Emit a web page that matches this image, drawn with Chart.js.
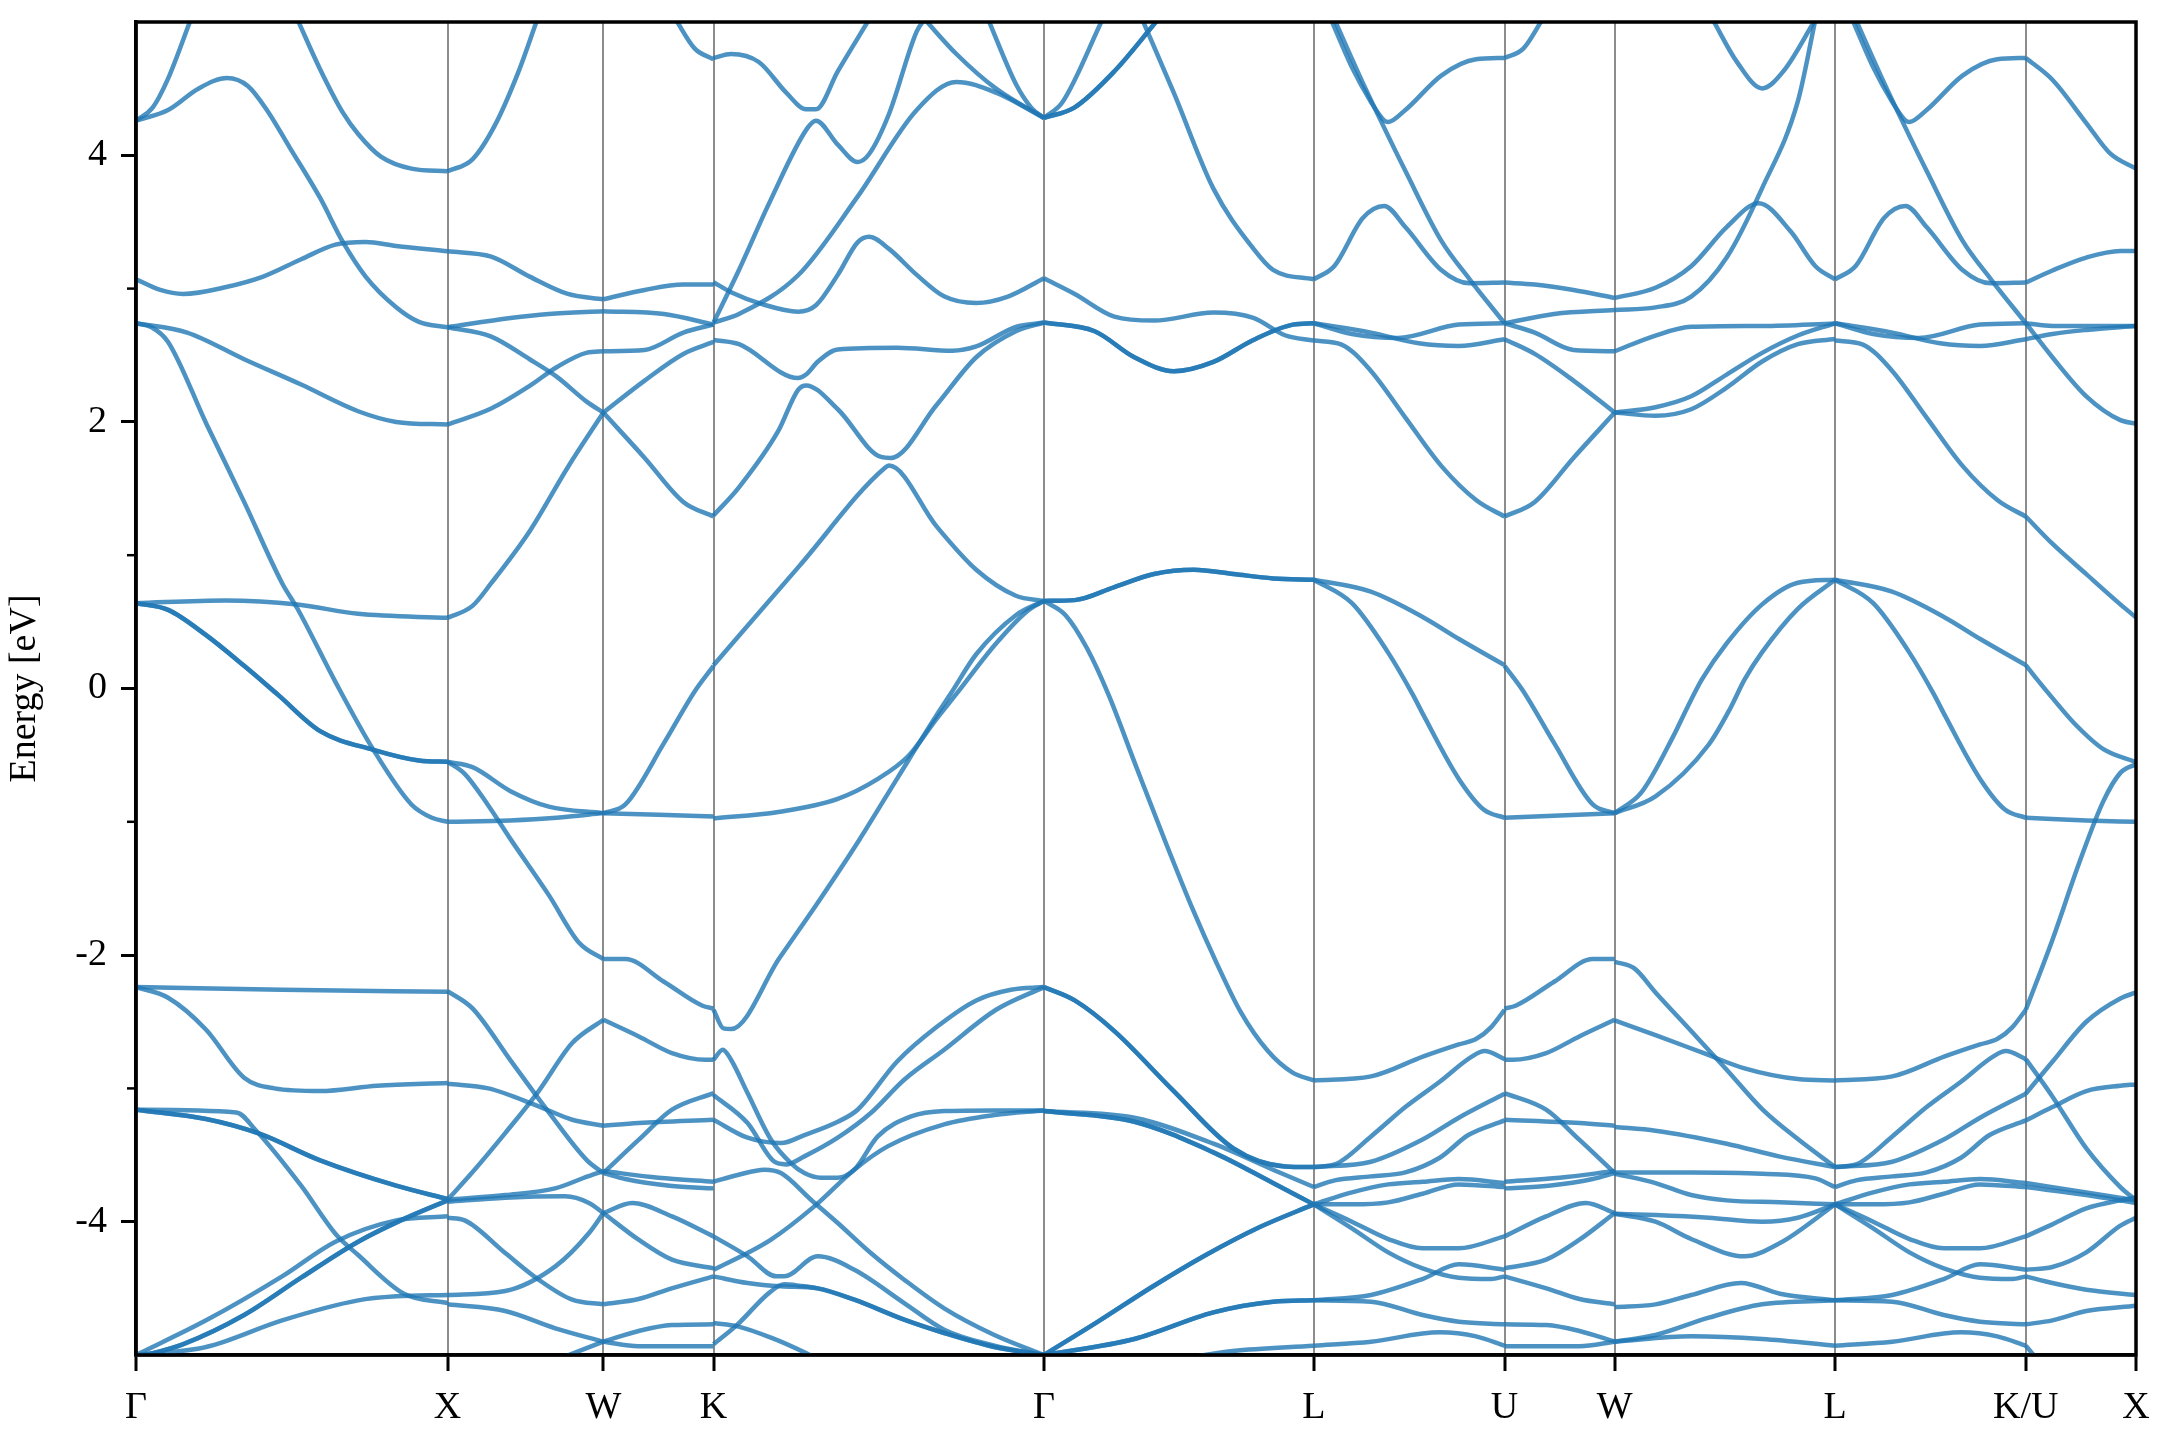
<!DOCTYPE html>
<html lang="en">
<head>
<meta charset="UTF-8">
<title>Band structure</title>
<script src="https://cdn.jsdelivr.net/npm/chart.js"></script>
<style>
  html, body { margin: 0; padding: 0; background: #fff; }
</style>
</head>
<body>
<canvas id="bands" width="2160" height="1440"></canvas>
<script>
// high-symmetry path (k distance, 2pi/a)
const kLabels = ['Γ', 'X', 'W', 'K', 'Γ', 'L', 'U', 'W', 'L', 'K/U', 'X'];
const kTicks = [0, 1, 1.5, 1.8536, 2.9142, 3.7802, 4.3926, 4.7462, 5.4533, 6.0656, 6.4192];
const yTicks = [-4, -2, 0, 2, 4];

// each curve: [fraction along segment, energy eV]
const bandsGX = [
  [[0,4.26],[0.054,4.36],[0.1,4.56],[0.176,5.02]],
  [[0,4.26],[0.103,4.34],[0.2,4.50],[0.292,4.58],[0.359,4.52],[0.42,4.34],[0.493,4.06],[0.591,3.68],[0.664,3.35],[0.737,3.09],[0.835,2.86],[0.908,2.75],[1,2.71]],
  [[0.518,5.02],[0.59,4.65],[0.664,4.32],[0.713,4.16],[0.786,3.99],[0.884,3.90],[1,3.88]],
  [[0,3.07],[0.078,2.99],[0.151,2.96],[0.286,3.01],[0.408,3.09],[0.53,3.22],[0.64,3.33],[0.737,3.35],[0.835,3.32],[1,3.28]],
  [[0,2.74],[0.164,2.67],[0.347,2.47],[0.53,2.28],[0.713,2.08],[0.835,2.0],[1,1.98]],
  [[0,2.74],[0.05,2.71],[0.103,2.6],[0.225,1.99],[0.347,1.40],[0.469,0.79],[0.518,0.60],[0.64,0.05],[0.762,-0.46],[0.884,-0.87],[0.95,-0.97],[1,-1.0]],
  [[0,0.64],[0.286,0.66],[0.518,0.63],[0.713,0.56],[1,0.53]],
  [[0,0.64],[0.103,0.59],[0.225,0.40],[0.347,0.17],[0.457,-0.05],[0.591,-0.32],[0.762,-0.46],[0.908,-0.54],[1,-0.55]],
  [[0,0.64],[0.103,0.59],[0.225,0.40],[0.347,0.17],[0.457,-0.05],[0.591,-0.32],[0.762,-0.46],[0.908,-0.54],[1,-0.55]],
  [[0,-2.24],[0.469,-2.26],[1,-2.275]],
  [[0,-2.24],[0.103,-2.32],[0.225,-2.56],[0.347,-2.92],[0.444,-3.0],[0.591,-3.02],[0.774,-2.98],[1,-2.96]],
  [[0,-3.16],[0.225,-3.23],[0.396,-3.34],[0.591,-3.54],[0.835,-3.73],[1,-3.83]],
  [[0,-3.16],[0.225,-3.23],[0.396,-3.34],[0.591,-3.54],[0.835,-3.73],[1,-3.83]],
  [[0,-3.16],[0.322,-3.18],[0.383,-3.31],[0.53,-3.73],[0.64,-4.09],[0.713,-4.25],[0.86,-4.54],[1,-4.61]],
  [[0,-5.02],[0.15,-4.92],[0.347,-4.70],[0.53,-4.42],[0.713,-4.15],[0.85,-3.99],[1,-3.84]],
  [[0,-5.02],[0.15,-4.92],[0.347,-4.70],[0.53,-4.42],[0.713,-4.15],[0.85,-3.99],[1,-3.84]],
  [[0,-5.0],[0.225,-4.74],[0.469,-4.41],[0.64,-4.15],[0.835,-3.99],[1,-3.96]],
  [[0,-5.0],[0.225,-4.94],[0.469,-4.74],[0.713,-4.59],[0.835,-4.56],[1,-4.55]]
];

const bandsXW = [
  [[0,3.88],[0.16,3.97],[0.306,4.23],[0.453,4.62],[0.576,5.02]],
  [[0,3.28],[0.28,3.24],[0.527,3.09],[0.772,2.96],[1,2.92]],
  [[0,2.71],[0.404,2.78],[0.65,2.81],[1,2.83]],
  [[0,2.71],[0.28,2.64],[0.527,2.47],[0.7,2.34],[0.895,2.15],[1,2.07]],
  [[0,1.98],[0.28,2.1],[0.527,2.27],[0.7,2.41],[0.895,2.52],[1,2.53]],
  [[0,0.53],[0.16,0.62],[0.28,0.79],[0.527,1.18],[0.772,1.66],[1,2.07]],
  [[0,-0.55],[0.16,-0.59],[0.404,-0.77],[0.65,-0.886],[1,-0.935]],
  [[0,-1.0],[0.4,-0.99],[0.7,-0.97],[1,-0.935]],
  [[0,-0.55],[0.11,-0.64],[0.257,-0.87],[0.404,-1.13],[0.65,-1.55],[0.846,-1.91],[1,-2.03]],
  [[0,-2.27],[0.16,-2.40],[0.404,-2.79],[0.65,-3.18],[0.895,-3.54],[1,-3.635]],
  [[0,-2.965],[0.262,-3.0],[0.585,-3.135],[0.8,-3.235],[1,-3.28]],
  [[0,-3.835],[0.155,-3.635],[0.37,-3.335],[0.585,-3.02],[0.8,-2.66],[1,-2.485]],
  [[0,-3.835],[0.37,-3.80],[0.69,-3.75],[0.9,-3.66],[1,-3.62]],
  [[0,-3.85],[0.37,-3.82],[0.755,-3.81],[0.908,-3.86],[1,-3.935]],
  [[0,-3.97],[0.11,-3.99],[0.37,-4.235],[0.585,-4.435],[0.8,-4.585],[1,-4.62]],
  [[0,-4.55],[0.37,-4.52],[0.692,-4.335],[0.908,-4.085],[1,-3.935]],
  [[0,-4.62],[0.37,-4.67],[0.692,-4.8],[1,-4.9]],
  [[0.735,-5.02],[1,-4.9]]
];

const bandsWK = [
  [[0,2.92],[0.375,2.99],[0.726,3.03],[1,3.03]],
  [[0,2.83],[0.55,2.81],[1,2.73]],
  [[0,2.53],[0.375,2.54],[0.726,2.67],[1,2.73]],
  [[0,2.07],[0.375,1.73],[0.726,1.40],[1,1.29]],
  [[0,2.07],[0.375,2.31],[0.726,2.51],[1,2.60]],
  [[0.656,5.02],[0.83,4.8],[1,4.72]],
  [[0,-0.935],[0.2,-0.87],[0.55,-0.41],[0.83,-0.02],[1,0.17]],
  [[0,-0.935],[1,-0.96]],
  [[0,-2.03],[0.2,-2.03],[0.55,-2.2],[0.9,-2.38],[1,-2.40]],
  [[0,-2.485],[0.322,-2.61],[0.623,-2.735],[0.925,-2.785],[1,-2.785]],
  [[0,-3.28],[0.32,-3.26],[1,-3.235]],
  [[0,-3.635],[0.322,-3.385],[0.623,-3.16],[1,-3.035]],
  [[0,-3.62],[0.5,-3.67],[1,-3.70]],
  [[0,-3.635],[0.2,-3.68],[0.6,-3.73],[1,-3.75]],
  [[0,-3.935],[0.262,-3.86],[0.623,-3.96],[1,-4.11]],
  [[0,-3.935],[0.32,-4.135],[0.623,-4.285],[1,-4.35]],
  [[0,-4.62],[0.32,-4.58],[0.62,-4.5],[1,-4.41]],
  [[0,-4.9],[0.32,-4.82],[0.62,-4.775],[1,-4.77]],
  [[0,-4.9],[0.32,-4.935],[1,-4.935]]
];

const bandsKG = [
  [[0,4.73],[0.053,4.76],[0.137,4.70],[0.22,4.47],[0.28,4.345],[0.31,4.345],[0.376,4.63],[0.471,5.02]],
  [[0,2.745],[0.077,3.14],[0.172,3.66],[0.283,4.20],[0.31,4.26],[0.376,4.08],[0.436,3.95],[0.471,4.01],[0.531,4.31],[0.615,4.93],[0.639,5.02]],
  [[0.639,5.02],[0.735,4.76],[0.855,4.50],[1,4.28]],
  [[0,2.745],[0.077,2.81],[0.256,3.10],[0.436,3.69],[0.615,4.34],[0.735,4.55],[0.855,4.47],[1,4.28]],
  [[0.831,5.02],[0.915,4.535],[0.962,4.356],[1,4.28]],
  [[0,3.048],[0.053,2.973],[0.149,2.882],[0.256,2.827],[0.31,2.875],[0.376,3.103],[0.436,3.347],[0.471,3.389],[0.531,3.298],[0.615,3.103],[0.699,2.94],[0.795,2.892],[0.891,2.94],[1,3.077]],
  [[0,2.615],[0.077,2.583],[0.256,2.329],[0.28,2.355],[0.316,2.453],[0.376,2.544],[0.555,2.557],[0.723,2.534],[0.795,2.566],[0.915,2.713],[1,2.745]],
  [[0,1.298],[0.077,1.509],[0.196,1.932],[0.256,2.241],[0.28,2.274],[0.376,2.095],[0.507,1.737],[0.537,1.73],[0.675,2.127],[0.795,2.485],[0.915,2.68],[1,2.745]],
  [[0,0.175],[0.26,0.92],[0.519,1.656],[0.531,1.672],[0.675,1.216],[0.795,0.891],[0.915,0.696],[1,0.657]],
  [[0,-0.975],[0.196,-0.926],[0.376,-0.828],[0.495,-0.682],[0.591,-0.503],[0.675,-0.227],[0.735,-0.04],[0.855,0.338],[0.95,0.582],[1,0.657]],
  [[0,-2.41],[0.03,-2.55],[0.053,-2.555],[0.2,-2.02],[0.32,-1.59],[0.44,-1.14],[0.557,-0.67],[0.675,-0.2],[0.72,-0.03],[0.795,0.257],[0.915,0.55],[1,0.657]],
  [[0,-2.785],[0.028,-2.71],[0.053,-2.785],[0.103,-3.035],[0.174,-3.385],[0.234,-3.56],[0.275,-3.635],[0.325,-3.67],[0.376,-3.67],[0.426,-3.61],[0.497,-3.36],[0.598,-3.21],[0.698,-3.17],[0.85,-3.165],[1,-3.165]],
  [[0,-3.235],[0.103,-3.37],[0.204,-3.41],[0.275,-3.35],[0.376,-3.25],[0.436,-3.16],[0.555,-2.80],[0.675,-2.54],[0.795,-2.34],[0.9,-2.26],[1,-2.24]],
  [[0,-3.05],[0.103,-3.26],[0.184,-3.55],[0.219,-3.57],[0.275,-3.51],[0.376,-3.37],[0.476,-3.185],[0.577,-2.935],[0.698,-2.71],[0.855,-2.41],[1,-2.24]],
  [[0,-4.36],[0.103,-4.235],[0.174,-4.135],[0.305,-3.885],[0.426,-3.61],[0.527,-3.435],[0.698,-3.27],[0.85,-3.2],[1,-3.165]],
  [[0,-3.70],[0.073,-3.65],[0.154,-3.61],[0.204,-3.635],[0.295,-3.835],[0.376,-4.01],[0.476,-4.235],[0.577,-4.435],[0.698,-4.65],[0.85,-4.85],[1,-5.0]],
  [[0,-4.11],[0.103,-4.26],[0.19,-4.41],[0.214,-4.41],[0.315,-4.26],[0.426,-4.36],[0.577,-4.61],[0.698,-4.81],[0.85,-4.93],[1,-5.0]],
  [[0,-4.41],[0.103,-4.46],[0.204,-4.485],[0.315,-4.50],[0.426,-4.585],[0.577,-4.735],[0.698,-4.835],[0.85,-4.94],[1,-5.0]],
  [[0,-4.92],[0.073,-4.77],[0.17,-4.53],[0.214,-4.47],[0.26,-4.48],[0.315,-4.50],[0.426,-4.585],[0.577,-4.735],[0.698,-4.835],[0.85,-4.94],[1,-5.0]],
  [[0,-4.76],[0.073,-4.785],[0.174,-4.87],[0.275,-4.98],[0.33,-5.05]]
];

const bandsGL = [
  [[0,0.657],[0.114,0.663],[0.261,0.761],[0.408,0.859],[0.555,0.891],[0.702,0.859],[0.849,0.826],[1,0.816]],
  [[0,0.657],[0.114,0.663],[0.261,0.761],[0.408,0.859],[0.555,0.891],[0.702,0.859],[0.849,0.826],[1,0.816]],
  [[0,2.745],[0.188,2.68],[0.335,2.485],[0.481,2.38],[0.628,2.45],[0.776,2.615],[0.923,2.73],[1,2.74]],
  [[0,2.745],[0.188,2.68],[0.335,2.485],[0.481,2.38],[0.628,2.45],[0.776,2.615],[0.923,2.73],[1,2.74]],
  [[0,3.077],[0.114,2.96],[0.261,2.79],[0.408,2.76],[0.628,2.82],[0.776,2.78],[0.893,2.65],[1,2.61]],
  [[0,4.281],[0.114,4.36],[0.261,4.63],[0.423,5.02]],
  [[0,4.281],[0.114,4.36],[0.261,4.63],[0.423,5.02]],
  [[0,4.281],[0.069,4.40],[0.217,5.02]],
  [[0.364,5.02],[0.481,4.47],[0.628,3.75],[0.776,3.30],[0.849,3.14],[1,3.07]],
  [[0,0.657],[0.08,0.55],[0.16,0.3],[0.24,-0.05],[0.335,-0.55],[0.45,-1.15],[0.55,-1.65],[0.64,-2.06],[0.73,-2.43],[0.83,-2.72],[0.92,-2.88],[1,-2.94]],
  [[0,-2.24],[0.114,-2.34],[0.261,-2.57],[0.481,-3.02],[0.702,-3.45],[0.893,-3.585],[1,-3.59]],
  [[0,-2.24],[0.114,-2.34],[0.261,-2.57],[0.481,-3.02],[0.702,-3.45],[0.893,-3.585],[1,-3.59]],
  [[0,-3.17],[0.335,-3.22],[0.628,-3.415],[0.849,-3.61],[1,-3.74]],
  [[0,-3.17],[0.335,-3.25],[0.628,-3.48],[0.849,-3.71],[1,-3.87]],
  [[0,-3.17],[0.335,-3.25],[0.628,-3.48],[0.849,-3.71],[1,-3.87]],
  [[0,-5.0],[0.2,-4.75],[0.4,-4.49],[0.6,-4.25],[0.8,-4.04],[1,-3.87]],
  [[0,-5.0],[0.2,-4.75],[0.4,-4.49],[0.6,-4.25],[0.8,-4.04],[1,-3.87]],
  [[0,-5.0],[0.335,-4.88],[0.628,-4.68],[0.849,-4.6],[1,-4.59]],
  [[0,-5.0],[0.335,-4.88],[0.628,-4.68],[0.849,-4.6],[1,-4.59]],
  [[0.5,-5.03],[0.7,-4.97],[1,-4.93]]
];

const bandsLU = [
  [[0.09,5.02],[0.2,4.66],[0.3,4.40],[0.37,4.26],[0.39,4.25],[0.48,4.34],[0.67,4.6],[0.85,4.72],[1,4.73]],
  [[0.108,5.02],[0.239,4.6],[0.351,4.26],[0.481,3.88],[0.668,3.36],[0.817,3.07],[1,2.74]],
  [[0,3.07],[0.108,3.17],[0.257,3.53],[0.369,3.62],[0.481,3.46],[0.668,3.14],[0.817,3.04],[1,3.045]],
  [[0,2.74],[0.2,2.66],[0.44,2.63],[0.76,2.73],[1,2.74]],
  [[0,2.74],[0.3,2.67],[0.55,2.59],[0.76,2.57],[1,2.62]],
  [[0,2.61],[0.146,2.58],[0.295,2.39],[0.481,2.03],[0.668,1.67],[0.854,1.41],[1,1.29]],
  [[0,0.816],[0.2,0.64],[0.388,0.273],[0.519,-0.046],[0.575,-0.2],[0.761,-0.68],[0.892,-0.91],[1,-0.97]],
  [[0,0.816],[0.295,0.728],[0.575,0.533],[0.761,0.371],[1,0.175]],
  [[0,-2.94],[0.3,-2.91],[0.575,-2.76],[0.76,-2.67],[0.85,-2.63],[0.93,-2.54],[1,-2.41]],
  [[0,-3.59],[0.11,-3.57],[0.3,-3.36],[0.48,-3.14],[0.66,-2.95],[0.83,-2.76],[0.895,-2.72],[1,-2.78]],
  [[0,-3.59],[0.3,-3.55],[0.575,-3.38],[0.76,-3.22],[1,-3.04]],
  [[0,-3.74],[0.11,-3.69],[0.3,-3.66],[0.48,-3.63],[0.66,-3.52],[0.81,-3.35],[1,-3.24]],
  [[0,-3.87],[0.2,-3.78],[0.39,-3.72],[0.57,-3.70],[0.76,-3.68],[1,-3.71]],
  [[0,-3.87],[0.2,-3.87],[0.39,-3.855],[0.57,-3.79],[0.76,-3.72],[1,-3.74]],
  [[0,-3.87],[0.2,-4.0],[0.39,-4.13],[0.57,-4.2],[0.76,-4.2],[1,-4.11]],
  [[0,-3.87],[0.2,-4.05],[0.39,-4.23],[0.57,-4.35],[0.76,-4.42],[0.93,-4.43],[1,-4.41]],
  [[0,-4.59],[0.3,-4.55],[0.57,-4.43],[0.76,-4.32],[1,-4.36]],
  [[0,-4.59],[0.3,-4.6],[0.57,-4.7],[0.76,-4.75],[1,-4.77]],
  [[0,-4.93],[0.3,-4.9],[0.66,-4.83],[0.85,-4.86],[1,-4.93]]
];

const bandsUW = [
  [[0,4.73],[0.17,4.8],[0.344,5.02]],
  [[0,3.045],[0.274,3.03],[0.625,2.99],[1,2.93]],
  [[0,2.74],[0.45,2.81],[1,2.84]],
  [[0,2.74],[0.274,2.67],[0.625,2.54],[1,2.53]],
  [[0,1.29],[0.274,1.40],[0.625,1.73],[1,2.07]],
  [[0,2.62],[0.274,2.51],[0.625,2.31],[1,2.07]],
  [[0,0.17],[0.17,-0.02],[0.45,-0.41],[0.8,-0.87],[1,-0.935]],
  [[0,-0.97],[1,-0.935]],
  [[0,-2.40],[0.1,-2.38],[0.45,-2.2],[0.8,-2.03],[1,-2.03]],
  [[0,-2.785],[0.075,-2.785],[0.377,-2.735],[0.678,-2.61],[1,-2.485]],
  [[0,-3.235],[0.68,-3.26],[1,-3.28]],
  [[0,-3.035],[0.377,-3.16],[0.678,-3.385],[1,-3.635]],
  [[0,-3.70],[0.5,-3.67],[1,-3.62]],
  [[0,-3.75],[0.4,-3.73],[0.8,-3.68],[1,-3.635]],
  [[0,-4.11],[0.377,-3.96],[0.738,-3.86],[1,-3.935]],
  [[0,-4.35],[0.377,-4.285],[0.68,-4.135],[1,-3.935]],
  [[0,-4.41],[0.38,-4.5],[0.68,-4.58],[1,-4.62]],
  [[0,-4.77],[0.38,-4.775],[0.68,-4.82],[1,-4.9]],
  [[0,-4.935],[0.68,-4.935],[1,-4.9]]
];

const bandsWL = [
  [[0,2.93],[0.185,3.006],[0.347,3.168],[0.508,3.461],[0.653,3.64],[0.798,3.43],[0.911,3.168],[1,3.07]],
  [[0,2.84],[0.185,2.859],[0.347,2.94],[0.508,3.233],[0.669,3.754],[0.831,4.404],[0.911,5.02]],
  [[0.444,5.02],[0.556,4.697],[0.669,4.502],[0.766,4.632],[0.911,5.02]],
  [[0,2.53],[0.185,2.648],[0.347,2.713],[0.669,2.72],[1,2.739]],
  [[0,2.07],[0.185,2.11],[0.347,2.192],[0.508,2.355],[0.669,2.518],[0.831,2.648],[1,2.739]],
  [[0,2.07],[0.185,2.046],[0.347,2.095],[0.508,2.257],[0.669,2.453],[0.831,2.583],[1,2.622]],
  [[0,-0.935],[0.121,-0.78],[0.266,-0.357],[0.33,-0.14],[0.395,0.066],[0.508,0.338],[0.669,0.631],[0.831,0.793],[1,0.816]],
  [[0,-0.935],[0.185,-0.81],[0.427,-0.42],[0.524,-0.15],[0.589,0.066],[0.669,0.273],[0.831,0.598],[1,0.816]],
  [[0,-2.05],[0.089,-2.10],[0.185,-2.28],[0.347,-2.57],[0.508,-2.86],[0.669,-3.155],[0.831,-3.38],[1,-3.59]],
  [[0,-2.49],[0.185,-2.6],[0.395,-2.73],[0.589,-2.85],[0.831,-2.93],[1,-2.94]],
  [[0,-3.29],[0.185,-3.317],[0.508,-3.415],[0.75,-3.512],[1,-3.59]],
  [[0,-3.63],[0.347,-3.63],[0.669,-3.64],[0.911,-3.675],[1,-3.74]],
  [[0,-3.64],[0.185,-3.71],[0.347,-3.80],[0.508,-3.84],[0.75,-3.854],[1,-3.87]],
  [[0,-3.94],[0.185,-3.95],[0.427,-3.97],[0.669,-4.0],[0.831,-3.97],[1,-3.87]],
  [[0,-3.94],[0.185,-4.0],[0.347,-4.13],[0.589,-4.26],[0.75,-4.16],[1,-3.87]],
  [[0,-4.64],[0.185,-4.62],[0.347,-4.55],[0.573,-4.46],[0.75,-4.54],[1,-4.59]],
  [[0,-4.9],[0.185,-4.85],[0.427,-4.72],[0.669,-4.62],[1,-4.59]],
  [[0,-4.9],[0.347,-4.86],[0.669,-4.88],[1,-4.93]]
];

const bandsLK = [
  [[0.09,5.02],[0.2,4.66],[0.3,4.40],[0.37,4.26],[0.39,4.25],[0.48,4.34],[0.67,4.6],[0.85,4.72],[1,4.73]],
  [[0.108,5.02],[0.239,4.6],[0.351,4.26],[0.481,3.88],[0.668,3.36],[0.817,3.07],[1,2.74]],
  [[0,3.07],[0.108,3.17],[0.257,3.53],[0.369,3.62],[0.481,3.46],[0.668,3.14],[0.817,3.04],[1,3.045]],
  [[0,2.74],[0.2,2.66],[0.44,2.63],[0.76,2.73],[1,2.74]],
  [[0,2.74],[0.3,2.67],[0.55,2.59],[0.76,2.57],[1,2.62]],
  [[0,2.61],[0.146,2.58],[0.295,2.39],[0.481,2.03],[0.668,1.67],[0.854,1.41],[1,1.29]],
  [[0,0.816],[0.2,0.64],[0.388,0.273],[0.519,-0.046],[0.575,-0.2],[0.761,-0.68],[0.892,-0.91],[1,-0.97]],
  [[0,0.816],[0.295,0.728],[0.575,0.533],[0.761,0.371],[1,0.175]],
  [[0,-2.94],[0.3,-2.91],[0.575,-2.76],[0.76,-2.67],[0.85,-2.63],[0.93,-2.54],[1,-2.41]],
  [[0,-3.59],[0.11,-3.57],[0.3,-3.36],[0.48,-3.14],[0.66,-2.95],[0.83,-2.76],[0.895,-2.72],[1,-2.78]],
  [[0,-3.59],[0.3,-3.55],[0.575,-3.38],[0.76,-3.22],[1,-3.04]],
  [[0,-3.74],[0.11,-3.69],[0.3,-3.66],[0.48,-3.63],[0.66,-3.52],[0.81,-3.35],[1,-3.24]],
  [[0,-3.87],[0.2,-3.78],[0.39,-3.72],[0.57,-3.70],[0.76,-3.68],[1,-3.71]],
  [[0,-3.87],[0.2,-3.87],[0.39,-3.855],[0.57,-3.79],[0.76,-3.72],[1,-3.74]],
  [[0,-3.87],[0.2,-4.0],[0.39,-4.13],[0.57,-4.2],[0.76,-4.2],[1,-4.11]],
  [[0,-3.87],[0.2,-4.05],[0.39,-4.23],[0.57,-4.35],[0.76,-4.42],[0.93,-4.43],[1,-4.41]],
  [[0,-4.59],[0.3,-4.55],[0.57,-4.43],[0.76,-4.32],[1,-4.36]],
  [[0,-4.59],[0.3,-4.6],[0.57,-4.7],[0.76,-4.75],[1,-4.77]],
  [[0,-4.93],[0.3,-4.9],[0.66,-4.83],[0.85,-4.86],[1,-4.93]]
];

const bandsUX = [
  [[0,4.73],[0.241,4.567],[0.549,4.242],[0.765,4.014],[1,3.90]],
  [[0,3.045],[0.241,3.136],[0.549,3.233],[0.858,3.282],[1,3.282]],
  [[0,2.74],[0.241,2.485],[0.549,2.192],[0.858,2.013],[1,1.987]],
  [[0,2.74],[0.241,2.72],[1,2.72]],
  [[0,2.62],[0.241,2.66],[0.549,2.69],[1,2.72]],
  [[0,1.29],[0.241,1.086],[0.549,0.858],[0.858,0.631],[1,0.533]],
  [[0,0.175],[0.1,0.07],[0.25,-0.08],[0.45,-0.27],[0.704,-0.455],[1,-0.552]],
  [[0,-0.97],[0.55,-0.99],[1,-1.0]],
  [[0,-2.41],[0.241,-1.886],[0.488,-1.30],[0.704,-0.845],[0.858,-0.633],[1,-0.568]],
  [[0,-2.78],[0.241,-3.06],[0.549,-3.45],[0.858,-3.74],[1,-3.84]],
  [[0,-3.04],[0.241,-2.80],[0.549,-2.50],[0.858,-2.325],[1,-2.28]],
  [[0,-3.24],[0.241,-3.14],[0.549,-3.02],[0.858,-2.98],[1,-2.97]],
  [[0,-3.71],[0.549,-3.78],[1,-3.84]],
  [[0,-3.74],[0.549,-3.80],[1,-3.86]],
  [[0,-4.11],[0.241,-4.02],[0.549,-3.90],[0.858,-3.84],[1,-3.82]],
  [[0,-4.36],[0.241,-4.34],[0.549,-4.23],[0.858,-4.03],[1,-3.97]],
  [[0,-4.41],[0.241,-4.46],[0.549,-4.51],[1,-4.55]],
  [[0,-4.77],[0.241,-4.74],[0.549,-4.67],[1,-4.63]],
  [[0,-4.93],[0.12,-5.05]]
];

const segments = [bandsGX, bandsXW, bandsWK, bandsKG, bandsGL, bandsLU, bandsUW, bandsWL, bandsLK, bandsUX];

const lineColor = 'rgba(31, 119, 180, 0.8)';
const fontFamily = '"Liberation Serif", "DejaVu Serif", serif';

const datasets = [];
segments.forEach((seg, i) => {
  const k0 = kTicks[i], k1 = kTicks[i + 1];
  seg.forEach(curve => {
    datasets.push({
      data: curve.map(([t, e]) => ({ x: k0 + t * (k1 - k0), y: e })),
      borderColor: lineColor,
      borderWidth: 4.5,
      showLine: true,
      pointRadius: 0,
      cubicInterpolationMode: 'monotone',
      clip: 0
    });
  });
});

// frame and minor y ticks
const framePlugin = {
  id: 'frame',
  afterDraw(chart) {
    const { ctx, chartArea: a, scales } = chart;
    ctx.save();
    ctx.strokeStyle = '#000';
    ctx.lineWidth = 2.5;
    [-3, -1, 1, 3].forEach(v => {
      const y = scales.y.getPixelForValue(v);
      ctx.beginPath();
      ctx.moveTo(a.left, y);
      ctx.lineTo(a.left - 9, y);
      ctx.stroke();
    });
    ctx.lineWidth = 3.5;
    ctx.strokeRect(a.left, a.top, a.right - a.left, a.bottom - a.top);
    ctx.restore();
  }
};

new Chart(document.getElementById('bands'), {
  type: 'scatter',
  data: { datasets },
  plugins: [framePlugin],
  options: {
    responsive: false,
    animation: false,
    events: [],
    layout: { padding: { top: 22, right: 24, left: 0, bottom: 0 } },
    plugins: { legend: { display: false }, tooltip: { enabled: false } },
    scales: {
      x: {
        type: 'linear',
        min: kTicks[0],
        max: kTicks[kTicks.length - 1],
        afterBuildTicks: s => { s.ticks = kTicks.map(v => ({ value: v })); },
        afterFit: s => { s.height = 85; s.paddingLeft = 0; s.paddingRight = 0; },
        ticks: {
          autoSkip: false,
          maxRotation: 0,
          padding: 14,
          color: '#000',
          font: { family: fontFamily, size: 38 },
          callback: (v, i) => kLabels[i]
        },
        grid: {
          drawOnChartArea: true,
          color: 'rgba(0,0,0,0.45)',
          lineWidth: 2,
          tickColor: '#000',
          tickWidth: 3,
          tickLength: 16
        },
        border: { display: true, color: '#000', width: 3.5 }
      },
      y: {
        min: -5,
        max: 5,
        afterBuildTicks: s => { s.ticks = yTicks.map(v => ({ value: v })); },
        afterFit: s => { s.width = 136; s.paddingTop = 0; s.paddingBottom = 0; },
        ticks: {
          padding: 14,
          color: '#000',
          font: { family: fontFamily, size: 38 },
          callback: v => String(v)
        },
        grid: {
          drawOnChartArea: false,
          tickColor: '#000',
          tickWidth: 3,
          tickLength: 15
        },
        border: { display: true, color: '#000', width: 3.5 },
        title: {
          display: true,
          text: 'Energy [eV]',
          color: '#000',
          font: { family: fontFamily, size: 38 },
          padding: { top: 2, bottom: 0 }
        }
      }
    }
  }
});
</script>
</body>
</html>
